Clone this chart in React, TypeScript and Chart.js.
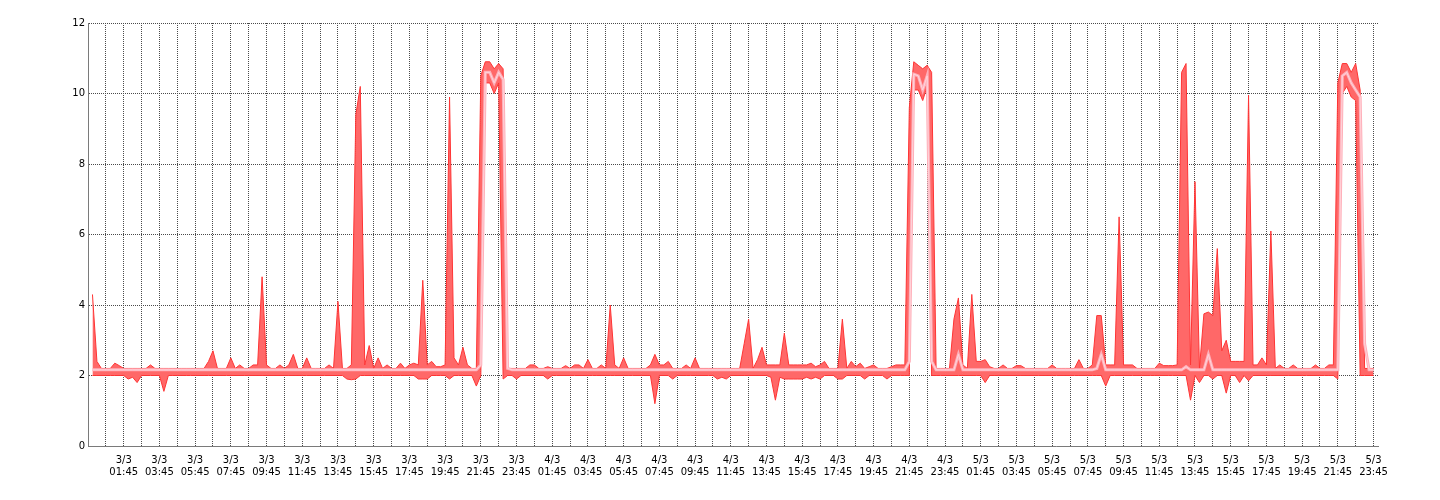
import React, { useEffect, useRef } from "react";
import { Chart, registerables } from "chart.js";

Chart.register(...registerables);

// x-axis tick labels
const dayLabels = ["3/3", "4/3", "5/3"];
const timeLabels = ["01:45", "03:45", "05:45", "07:45", "09:45", "11:45", "13:45", "15:45", "17:45", "19:45", "21:45", "23:45"];

// 15-minute samples starting 3/3 00:00
const maxValues = [
  4.3, 2.4, 2.2, 2.2, 2.2, 2.35, 2.28, 2.2, 2.2, 2.2, 2.2, 2.2, 2.2, 2.3, 2.2, 2.2,
  2.2, 2.2, 2.2, 2.2, 2.2, 2.2, 2.2, 2.2, 2.2, 2.2, 2.4, 2.7, 2.2, 2.2, 2.2, 2.5,
  2.2, 2.3, 2.2, 2.2, 2.3, 2.3, 4.8, 2.3, 2.2, 2.2, 2.3, 2.2, 2.3, 2.6, 2.2, 2.2,
  2.5, 2.2, 2.2, 2.2, 2.2, 2.3, 2.2, 4.1, 2.2, 2.2, 2.3, 9.4, 10.2, 2.3, 2.85, 2.2,
  2.5, 2.2, 2.3, 2.2, 2.2, 2.35, 2.2, 2.3, 2.35, 2.3, 4.7, 2.3, 2.4, 2.25, 2.25, 2.3,
  9.9, 2.5, 2.3, 2.8, 2.3, 2.2, 2.2, 10.5, 10.9, 10.9, 10.7, 10.85, 10.7, 2.2, 2.2, 2.2,
  2.2, 2.2, 2.3, 2.3, 2.2, 2.2, 2.25, 2.2, 2.2, 2.2, 2.28, 2.2, 2.3, 2.3, 2.2, 2.45,
  2.2, 2.2, 2.3, 2.2, 4.0, 2.3, 2.2, 2.5, 2.2, 2.2, 2.2, 2.2, 2.2, 2.3, 2.6, 2.3,
  2.3, 2.4, 2.2, 2.2, 2.2, 2.3, 2.2, 2.5, 2.2, 2.2, 2.2, 2.2, 2.2, 2.2, 2.2, 2.2,
  2.2, 2.2, 2.9, 3.6, 2.2, 2.45, 2.8, 2.3, 2.3, 2.3, 2.3, 3.2, 2.3, 2.3, 2.3, 2.3,
  2.3, 2.35, 2.25, 2.3, 2.4, 2.2, 2.2, 2.2, 3.6, 2.2, 2.4, 2.25, 2.35, 2.2, 2.25, 2.3,
  2.2, 2.2, 2.2, 2.25, 2.3, 2.3, 2.3, 9.6, 10.9, 10.8, 10.7, 10.8, 10.6, 2.2, 2.2, 2.2,
  2.2, 3.6, 4.2, 2.3, 2.2, 4.3, 2.4, 2.4, 2.45, 2.25, 2.2, 2.2, 2.3, 2.2, 2.2, 2.28,
  2.28, 2.2, 2.2, 2.2, 2.2, 2.2, 2.2, 2.3, 2.2, 2.2, 2.2, 2.2, 2.2, 2.45, 2.2, 2.2,
  2.3, 3.7, 3.7, 2.3, 2.3, 2.3, 6.5, 2.3, 2.3, 2.3, 2.2, 2.2, 2.2, 2.2, 2.2, 2.35,
  2.28, 2.28, 2.28, 2.3, 10.6, 10.85, 2.3, 7.5, 2.2, 3.75, 3.8, 3.7, 5.6, 2.7, 3.0, 2.4,
  2.4, 2.4, 2.4, 9.95, 2.3, 2.3, 2.5, 2.3, 6.1, 2.2, 2.3, 2.2, 2.2, 2.3, 2.2, 2.2,
  2.2, 2.2, 2.3, 2.2, 2.2, 2.3, 2.3, 10.3, 10.85, 10.85, 10.6, 10.85, 10.1, 2.2, 2.2, 2.2,
];

const minValues = [
  2, 2, 2, 2, 2, 2, 2, 2, 1.9, 1.95, 1.8, 2, 2, 2, 2, 2,
  1.55, 2, 2, 2, 2, 2, 2, 2, 2, 2, 2, 2, 2, 2, 2, 2,
  2, 2, 2, 2, 2, 2, 2, 2, 2, 2, 2, 2, 2, 2, 2, 2,
  2, 2, 2, 2, 2, 2, 2, 2, 2, 1.9, 1.88, 1.9, 2, 2, 2, 2,
  2, 2, 2, 2, 2, 2, 2, 2, 2, 1.9, 1.9, 1.9, 2, 2, 2, 2,
  1.9, 2, 2, 2, 2, 2, 1.7, 2, 10.3, 10.3, 10.0, 10.3, 1.9, 2, 2, 1.9,
  2, 2, 2, 2, 2, 2, 1.9, 2, 2, 2, 2, 2, 2, 2, 2, 2,
  2, 2, 2, 2, 2, 2, 2, 2, 2, 2, 2, 2, 2, 2, 1.2, 2,
  2, 2, 1.9, 2, 2, 2, 2, 2, 2, 2, 2, 2, 1.9, 1.95, 1.9, 2,
  2, 2, 2, 2, 2, 2, 2, 2, 1.95, 1.3, 1.95, 1.9, 1.9, 1.9, 1.9, 1.9,
  1.95, 1.9, 1.95, 1.9, 2, 2, 2, 1.9, 1.9, 2, 2, 2, 2, 1.9, 2, 2,
  2, 2, 1.9, 2, 2, 2, 2, 2, 10.1, 10.1, 9.8, 10.2, 2, 2, 2, 2,
  2, 2, 2, 2, 2, 2, 2, 2, 1.8, 2, 2, 2, 2, 2, 2, 2,
  2, 2, 2, 2, 2, 2, 2, 2, 2, 2, 2, 2, 2, 2, 2, 2,
  2, 2, 2, 1.7, 2, 2, 2, 2, 2, 2, 2, 2, 2, 2, 2, 2,
  2, 2, 2, 2, 2, 2, 1.3, 2, 1.8, 2, 2, 1.9, 2, 2, 1.5, 2,
  2, 1.8, 2, 1.85, 2, 2, 2, 2, 2, 2, 2, 2, 2, 2, 2, 2,
  2, 2, 2, 2, 2, 2, 2, 1.9, 10.0, 10.2, 9.9, 9.8, 2, 2, 2, 2,
];

const avgValues = [
  2.16, 2.16, 2.16, 2.16, 2.16, 2.16, 2.16, 2.16, 2.16, 2.16, 2.16, 2.16, 2.16, 2.16, 2.16, 2.16,
  2.16, 2.16, 2.16, 2.16, 2.16, 2.16, 2.16, 2.16, 2.16, 2.16, 2.16, 2.16, 2.16, 2.16, 2.16, 2.16,
  2.16, 2.16, 2.16, 2.16, 2.16, 2.16, 2.16, 2.16, 2.16, 2.16, 2.16, 2.16, 2.16, 2.16, 2.16, 2.16,
  2.16, 2.16, 2.16, 2.16, 2.16, 2.16, 2.16, 2.16, 2.16, 2.16, 2.16, 2.16, 2.16, 2.16, 2.16, 2.16,
  2.16, 2.16, 2.16, 2.16, 2.16, 2.16, 2.16, 2.16, 2.16, 2.16, 2.16, 2.16, 2.16, 2.16, 2.16, 2.16,
  2.16, 2.16, 2.16, 2.16, 2.16, 2.16, 2.16, 2.3, 10.6, 10.6, 10.3, 10.6, 10.4, 2.2, 2.16, 2.16,
  2.16, 2.16, 2.16, 2.16, 2.16, 2.16, 2.16, 2.16, 2.16, 2.16, 2.16, 2.16, 2.16, 2.16, 2.16, 2.16,
  2.16, 2.16, 2.16, 2.16, 2.16, 2.16, 2.16, 2.16, 2.16, 2.16, 2.16, 2.16, 2.16, 2.16, 2.16, 2.16,
  2.16, 2.16, 2.16, 2.16, 2.16, 2.16, 2.16, 2.16, 2.16, 2.16, 2.16, 2.16, 2.16, 2.16, 2.16, 2.16,
  2.16, 2.16, 2.16, 2.16, 2.16, 2.16, 2.16, 2.16, 2.16, 2.16, 2.16, 2.16, 2.16, 2.16, 2.16, 2.16,
  2.16, 2.16, 2.16, 2.16, 2.16, 2.16, 2.16, 2.16, 2.16, 2.16, 2.16, 2.16, 2.16, 2.16, 2.16, 2.16,
  2.16, 2.16, 2.16, 2.16, 2.16, 2.16, 2.16, 2.4, 10.55, 10.5, 10.1, 10.5, 2.4, 2.16, 2.16, 2.16,
  2.16, 2.16, 2.6, 2.16, 2.16, 2.16, 2.16, 2.16, 2.16, 2.16, 2.16, 2.16, 2.16, 2.16, 2.16, 2.16,
  2.16, 2.16, 2.16, 2.16, 2.16, 2.16, 2.16, 2.16, 2.16, 2.16, 2.16, 2.16, 2.16, 2.16, 2.16, 2.16,
  2.16, 2.2, 2.6, 2.16, 2.16, 2.16, 2.16, 2.16, 2.16, 2.16, 2.16, 2.16, 2.16, 2.16, 2.16, 2.16,
  2.16, 2.16, 2.16, 2.16, 2.16, 2.25, 2.16, 2.16, 2.16, 2.16, 2.6, 2.16, 2.16, 2.16, 2.16, 2.16,
  2.16, 2.16, 2.16, 2.16, 2.16, 2.16, 2.16, 2.16, 2.16, 2.16, 2.16, 2.16, 2.16, 2.16, 2.16, 2.16,
  2.16, 2.16, 2.16, 2.16, 2.16, 2.16, 2.16, 2.16, 10.5, 10.6, 10.3, 10.1, 9.9, 2.9, 2.16, 2.16,
];

const SAMPLE_HOURS = 0.25;
const FONT = { family: '"DejaVu Sans", Verdana, sans-serif', size: 10 };

function tickLabel(v: number): string | string[] {
  const k = (v - 1.75) / 2;
  const idx = Math.round(k);
  if (Math.abs(k - idx) > 0.01 || idx < 0) return "";
  const day = dayLabels[Math.floor(idx / timeLabels.length)];
  if (!day) return "";
  return [day, timeLabels[idx % timeLabels.length]];
}

export default function App() {
  const ref = useRef<HTMLCanvasElement | null>(null);

  useEffect(() => {
    if (!ref.current) return;
    const toPts = (arr: number[]) => arr.map((v, i) => ({ x: i * SAMPLE_HOURS, y: v }));
    const gridHours: number[] = [];
    for (let k = 0; k < 72; k++) gridHours.push(0.75 + k);

    const chart = new Chart(ref.current, {
      type: "line",
      data: {
        datasets: [
          { label: "avg-core", data: toPts(avgValues), borderColor: "#ffd4da", borderWidth: 1, pointRadius: 0, fill: false },
          { label: "avg", data: toPts(avgValues), borderColor: "#ffb0ba", borderWidth: 3, pointRadius: 0, fill: false },
          { label: "max", data: toPts(maxValues), borderColor: "#ff3434", backgroundColor: "#ff6868", borderWidth: 1, pointRadius: 0, fill: "+1" },
          { label: "min", data: toPts(minValues), borderColor: "#ff3434", borderWidth: 1, pointRadius: 0, fill: false },
        ],
      },
      options: {
        animation: false,
        responsive: false,
        devicePixelRatio: 1,
        parsing: false as any,
        normalized: true,
        layout: { padding: { top: 23, right: 62, left: 0, bottom: 0 } },
        plugins: {
          legend: { display: false },
          tooltip: { enabled: false },
          filler: { drawTime: "beforeDatasetsDraw" } as any,
        },
        elements: { line: { tension: 0 } },
        scales: {
          x: {
            type: "linear",
            min: -0.25,
            max: 72,
            afterBuildTicks: (s: any) => {
              s.ticks = gridHours.map((v) => ({ value: v }));
            },
            afterFit: (s: any) => {
              s.height = 54;
            },
            ticks: {
              autoSkip: false,
              maxRotation: 0,
              minRotation: 0,
              padding: 8,
              color: "#000",
              font: FONT,
              callback: (v: any) => tickLabel(Number(v)),
            },
            grid: { color: "#4a4a4a", lineWidth: 1, drawTicks: false },
            border: { color: "#7a7a7a", width: 1, dash: [1, 1] },
          },
          y: {
            type: "linear",
            min: 0,
            max: 12,
            afterFit: (s: any) => {
              s.width = 88;
            },
            ticks: { stepSize: 2, padding: 3, color: "#000", font: FONT },
            grid: { color: "#4a4a4a", lineWidth: 1, drawTicks: false },
            border: { color: "#7a7a7a", width: 1, dash: [1, 1] },
          },
        },
      },
    });
    return () => chart.destroy();
  }, []);

  return (
    <div style={{ position: "absolute", left: 0, top: 0, width: 1440, height: 500, background: "#fff" }}>
      <canvas ref={ref} width={1440} height={500} style={{ display: "block" }} />
    </div>
  );
}
